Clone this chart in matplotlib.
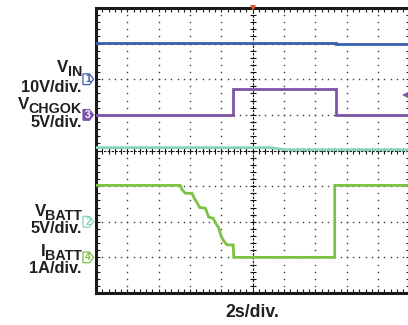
import matplotlib
matplotlib.use('Agg')
import matplotlib.pyplot as plt
import numpy as np
from matplotlib.patches import Polygon
from matplotlib.transforms import blended_transform_factory

plt.rcParams['font.family'] = ['Liberation Sans', 'DejaVu Sans']

# ---------------- data (time in s, values in V / A) ----------------
vin_t = [0.0, 15.3, 15.3, 20.6]
vin_v = [10.2, 10.2, 9.8, 9.8]

chgok_t = [0.0, 8.77, 8.77, 15.3, 15.3, 20.6]
chgok_v = [0.0, 0.0, 3.6, 3.6, 0.0, 0.0]

vbatt_t = [0.0, 11.1, 12.1, 20.6]
vbatt_v = [10.4, 10.4, 10.1, 10.1]

ibatt_t = [0.0, 5.38, 5.48, 5.70, 6.12, 6.27, 6.48, 6.61, 6.98, 7.19, 7.47,
           7.62, 7.83, 7.98, 8.15, 8.36, 8.75, 8.79, 15.23, 15.23, 20.6]
ibatt_v = [2.02, 2.02, 1.91, 1.80, 1.80, 1.66, 1.51, 1.40, 1.38, 1.13, 1.10,
           0.97, 0.83, 0.60, 0.46, 0.35, 0.35, 0.0, 0.0, 2.02, 2.02]

channel_main = ["V", "V", "V", "I"]
channel_sub = ["IN", "CHGOK", "BATT", "BATT"]
channel_scale_text = ["10V/div.", "5V/div.", "5V/div.", "1A/div."]
channel_number = ["1", "3", "2", "4"]
channel_volts_per_div = [10, 5, 5, 1]
channel_offset_div = [2, 1, -2, -3]
time_label = "2s/div."
trig_level_ch3 = 2.8

# ---------------- styles ----------------
colors = ["#3b5fae", "#7b54a6", "#86d3b8", "#7dc242"]
TXT = "#231f20"
W, H = 408, 325
fig = plt.figure(figsize=(W / 100, H / 100), dpi=100)
fig.patch.set_facecolor("white")

L, R, T, B = 96, 409.5, 8, 293
ax = fig.add_axes([L / W, 1 - B / H, (R - L) / W, (B - T) / H])
ax.set_xlim(0, 20)
ax.set_ylim(-4, 4)
ax.set_facecolor("white")

# graticule dots
gc = "#3a3a3a"
ydots = np.arange(-4, 4.001, 0.2)
xdots = np.arange(0, 20.001, 0.4)
for gx in range(2, 20, 2):
    if gx == 10:
        continue
    ax.plot(np.full_like(ydots, gx), ydots, ls="none", marker="s", ms=1.0,
            mew=0, color=gc, zorder=1)
for gy in range(-3, 4):
    if gy == 0:
        continue
    ax.plot(xdots, np.full_like(xdots, gy), ls="none", marker="s", ms=1.0,
            mew=0, color=gc, zorder=1)

# center axes with cross ticks
ax.plot([10, 10], [-4, 4], color="#111", lw=0.8, dashes=(2.2, 1.2), zorder=1)
ax.plot([0, 20], [0, 0], color="#111", lw=0.8, dashes=(2.2, 1.2), zorder=1)
ax.plot(np.full_like(ydots, 10), ydots, ls="none", marker="_", ms=4.5,
        mew=0.8, color="#111", zorder=1)
ax.plot(xdots, np.zeros_like(xdots), ls="none", marker="|", ms=4.5,
        mew=0.8, color="#111", zorder=1)

# frame
for s in ax.spines.values():
    s.set_linewidth(2.2)
    s.set_color("#1a1a1a")
ax.set_xticks(xdots)
ax.set_yticks(ydots)
ax.tick_params(direction="in", length=3, width=0.8, color="#1a1a1a",
               top=True, right=True, labelbottom=False, labelleft=False)

# traces
series = [(vin_t, vin_v), (chgok_t, chgok_v), (vbatt_t, vbatt_v), (ibatt_t, ibatt_v)]
for i, (tt, vv) in enumerate(series):
    y = channel_offset_div[i] + np.asarray(vv) / channel_volts_per_div[i]
    ax.plot(tt, y, color=colors[i], lw=2.0, solid_joinstyle="miter", zorder=3)

# trigger markers
ax.plot([10], [4], marker="v", ms=4.5, color="#e5552b", mew=0, clip_on=False, zorder=5)
ax.plot([19.7], [channel_offset_div[1] + trig_level_ch3 / channel_volts_per_div[1]],
        marker="<", ms=5, color=colors[1], mew=0, clip_on=False, zorder=5)

# channel tags and labels
bt = blended_transform_factory(fig.transFigure, ax.transData)
sub_base = [76, 113, 220, 260]
scale_base = [92, 127, 233, 273]
text_right = 82 / W
for i in range(4):
    yc = channel_offset_div[i]
    x0, x1, x2 = 83 / W, 89.5 / W, 93.5 / W
    hh = 0.15
    pts = [(x0, yc - hh), (x1, yc - hh), (x2, yc), (x1, yc + hh), (x0, yc + hh)]
    filled = (i == 1)
    poly = Polygon(pts, closed=True, transform=bt,
                   facecolor=colors[i] if filled else "white",
                   edgecolor=colors[i], lw=0.9, clip_on=False, zorder=6)
    fig.add_artist(poly)
    fig.text(88 / W, yc, channel_number[i], transform=bt, ha="center",
             va="center", fontsize=7.5, fontweight="bold",
             color="white" if filled else colors[i], zorder=7)

    sub = fig.text(text_right, 1 - sub_base[i] / H, channel_sub[i], ha="right",
                   va="baseline", fontsize=10.3, fontweight="bold", color=TXT)
    ax.annotate(channel_main[i], xy=(0, 0), xycoords=sub, xytext=(0.4, 5.4),
                textcoords="offset points", ha="right", va="baseline",
                fontsize=12.2, fontweight="bold", color=TXT,
                annotation_clip=False)
    fig.text(text_right, 1 - scale_base[i] / H, channel_scale_text[i],
             ha="right", va="baseline", fontsize=11.8, fontweight="bold",
             color=TXT)

fig.text(252.5 / W, 1 - 317 / H, time_label, ha="center", va="baseline",
         fontsize=12.7, fontweight="bold", color=TXT)

fig.savefig("out.png", dpi=100, facecolor="white")
